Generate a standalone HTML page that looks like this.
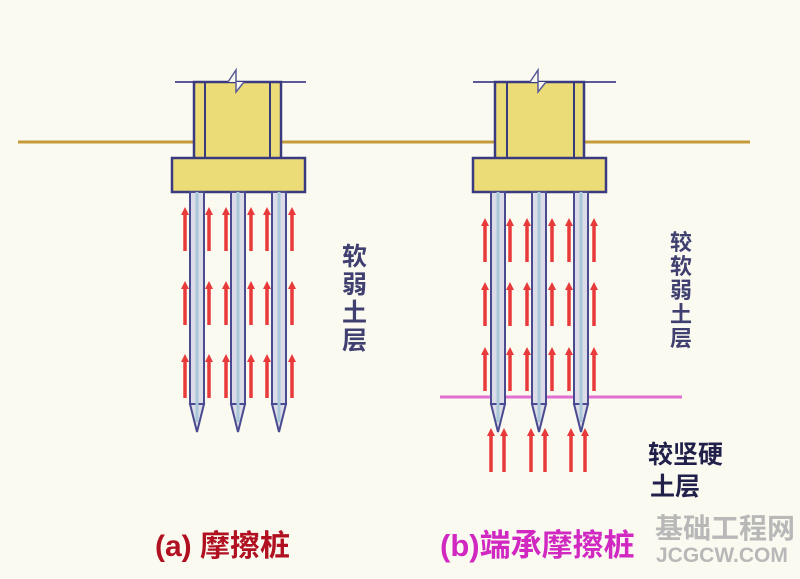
<!DOCTYPE html>
<html><head><meta charset="utf-8"><style>
html,body{margin:0;padding:0;background:#fbfaf1;}
svg{display:block}
text{font-family:"Liberation Sans","Noto Sans CJK SC",sans-serif;font-weight:bold}
</style></head><body>
<svg width="800" height="579" viewBox="0 0 800 579" xmlns="http://www.w3.org/2000/svg">
<defs>
<g id="ar"><line x1="0" y1="44" x2="0" y2="6" stroke="#e83a3a" stroke-width="3.5"/><polygon points="-4,8 4,8 0,0" fill="#e83a3a"/></g>
<g id="pile"><rect x="0" y="0" width="14" height="212" fill="#dcdce8" stroke="#4a4a90" stroke-width="2"/><polygon points="0,212 14,212 7,240" fill="#dcdce8" stroke="#4a4a90" stroke-width="2"/><line x1="7" y1="0" x2="7" y2="230" stroke="#a8c8d8" stroke-width="3"/></g>
</defs>
<rect width="800" height="579" fill="#fbfaf1"/>
<line x1="18" y1="142" x2="750" y2="142" stroke="#c59a3a" stroke-width="3"/>
<!-- left foundation -->
<line x1="175" y1="82" x2="306" y2="82" stroke="#5a5a98" stroke-width="2"/>
<rect x="194" y="82" width="87" height="77" fill="#ecdc78" stroke="#3a3a80" stroke-width="2.5"/>
<line x1="205" y1="82" x2="205" y2="159" stroke="#3a3a80" stroke-width="2"/>
<line x1="270" y1="82" x2="270" y2="159" stroke="#3a3a80" stroke-width="2"/>
<polyline points="228,82 236,70 236,92 244,82" fill="#fbfaf1" stroke="#5a5a98" stroke-width="1.5"/>
<rect x="172" y="158" width="133" height="34" fill="#ecdc78" stroke="#3a3a80" stroke-width="2.5"/>
<use href="#pile" x="190" y="192"/><use href="#pile" x="231" y="192"/><use href="#pile" x="272" y="192"/>
<g>
<use href="#ar" x="185" y="207"/><use href="#ar" x="209" y="207"/><use href="#ar" x="226" y="207"/><use href="#ar" x="251" y="207"/><use href="#ar" x="267" y="207"/><use href="#ar" x="292" y="207"/>
<use href="#ar" x="185" y="281"/><use href="#ar" x="209" y="281"/><use href="#ar" x="226" y="281"/><use href="#ar" x="251" y="281"/><use href="#ar" x="267" y="281"/><use href="#ar" x="292" y="281"/>
<use href="#ar" x="185" y="354"/><use href="#ar" x="209" y="354"/><use href="#ar" x="226" y="354"/><use href="#ar" x="251" y="354"/><use href="#ar" x="267" y="354"/><use href="#ar" x="292" y="354"/>
</g>
<g fill="#404070" font-size="25">
<text x="342" y="265">软</text><text x="342" y="293">弱</text><text x="342" y="321">土</text><text x="342" y="349">层</text>
</g>
<!-- right foundation -->
<line x1="473" y1="82" x2="616" y2="82" stroke="#5a5a98" stroke-width="2"/>
<rect x="495" y="82" width="89" height="77" fill="#ecdc78" stroke="#3a3a80" stroke-width="2.5"/>
<line x1="507" y1="82" x2="507" y2="159" stroke="#3a3a80" stroke-width="2"/>
<line x1="574" y1="82" x2="574" y2="159" stroke="#3a3a80" stroke-width="2"/>
<polyline points="530,82 538,70 538,92 546,82" fill="#fbfaf1" stroke="#5a5a98" stroke-width="1.5"/>
<rect x="473" y="158" width="133" height="34" fill="#ecdc78" stroke="#3a3a80" stroke-width="2.5"/>
<line x1="440" y1="397" x2="682" y2="397" stroke="#e070d0" stroke-width="3"/>
<use href="#pile" x="491" y="192"/><use href="#pile" x="532" y="192"/><use href="#pile" x="574" y="192"/>
<g>
<use href="#ar" x="485" y="218"/><use href="#ar" x="510" y="218"/><use href="#ar" x="527" y="218"/><use href="#ar" x="552" y="218"/><use href="#ar" x="569" y="218"/><use href="#ar" x="594" y="218"/>
<use href="#ar" x="485" y="282"/><use href="#ar" x="510" y="282"/><use href="#ar" x="527" y="282"/><use href="#ar" x="552" y="282"/><use href="#ar" x="569" y="282"/><use href="#ar" x="594" y="282"/>
<use href="#ar" x="485" y="347"/><use href="#ar" x="510" y="347"/><use href="#ar" x="527" y="347"/><use href="#ar" x="552" y="347"/><use href="#ar" x="569" y="347"/><use href="#ar" x="594" y="347"/>
<use href="#ar" x="491" y="428"/><use href="#ar" x="504" y="428"/><use href="#ar" x="531" y="428"/><use href="#ar" x="545" y="428"/><use href="#ar" x="571" y="428"/><use href="#ar" x="585" y="428"/>
</g>
<g fill="#404070" font-size="22">
<text x="670" y="250">较</text><text x="670" y="274">软</text><text x="670" y="298">弱</text><text x="670" y="322">土</text><text x="670" y="346">层</text>
</g>
<g fill="#20204a" font-size="25">
<text x="648" y="463">较坚硬</text><text x="650" y="495">土层</text>
</g>
<text x="155" y="556" font-size="30" fill="#b01020">(a) 摩擦桩</text>
<text x="440" y="556" font-size="31" fill="#d028c0">(b)端承摩擦桩</text>
<text x="655" y="538" font-size="28" fill="#b8b8b8" font-weight="normal">基础工程网</text>
<text x="656" y="562" font-size="21" fill="#b8b8b8" font-weight="normal">JCGCW.COM</text>
</svg>
</body></html>
